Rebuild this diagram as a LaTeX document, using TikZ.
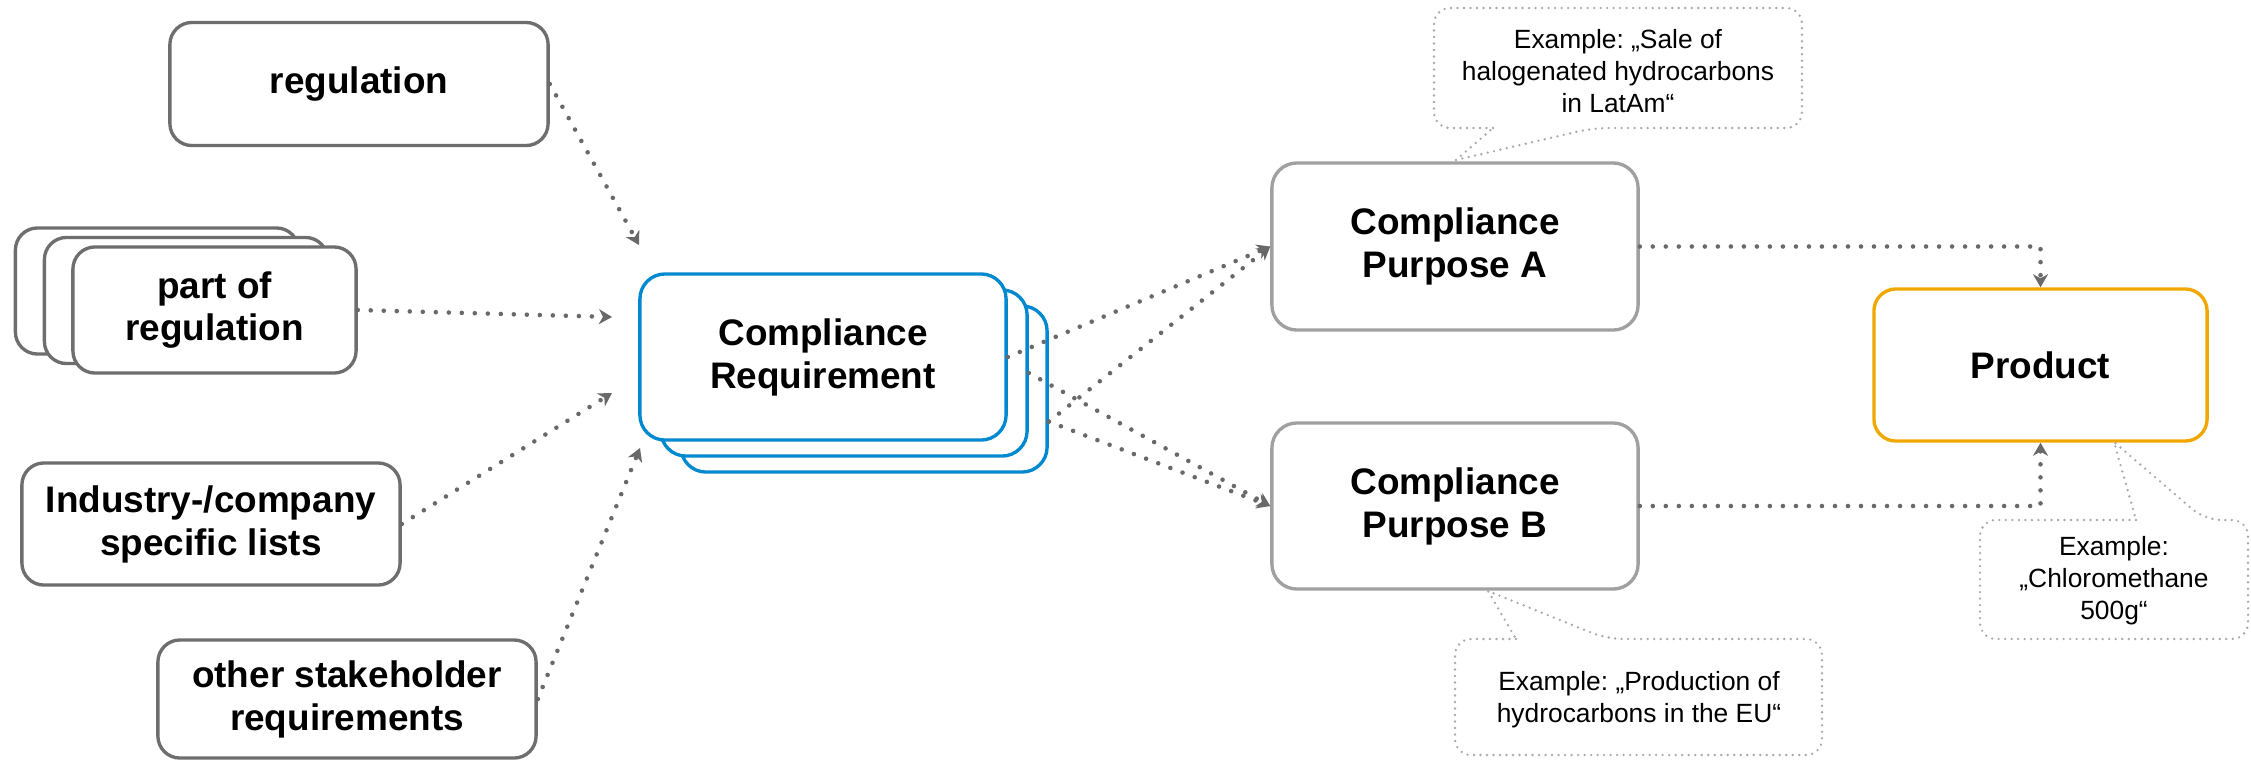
\documentclass[tikz,border=0pt]{standalone}
\usepackage{fontspec}
\setmainfont{Liberation Sans}
\usepackage{tikz}
\usetikzlibrary{arrows.meta,positioning}
\usepackage{xcolor}
\definecolor{srcgray}{RGB}{110,110,110}
\definecolor{purpgray}{RGB}{160,160,160}
\definecolor{reqblue}{RGB}{0,137,207}
\definecolor{prodorange}{RGB}{240,168,0}
\definecolor{linkgray}{RGB}{105,105,105}
\definecolor{notegray}{RGB}{170,170,170}

\begin{document}
\begin{tikzpicture}[x=0.01cm, y=-0.01cm,
  box/.style={rectangle, rounded corners=0.22cm, line width=0.95pt, fill=white, align=center,
    inner sep=0pt, font=\fontsize{10.5}{12.2}\selectfont\bfseries},
  srcbox/.style={box, draw=srcgray, minimum width=3.78cm},
  partbox/.style={box, draw=srcgray, minimum width=2.83cm, minimum height=1.26cm},
  reqbox/.style={box, draw=reqblue, rounded corners=0.25cm, minimum width=3.66cm, minimum height=1.66cm},
  purpbox/.style={box, draw=purpgray, rounded corners=0.25cm, minimum width=3.66cm, minimum height=1.66cm},
  link/.style={draw=linkgray, line width=1.3pt, line cap=round, dash pattern=on 0pt off 3.7pt,
    -{Stealth[length=0.13cm, width=0.15cm, inset=0.04cm]}},
  note/.style={draw=notegray, line width=0.75pt, line cap=round, dash pattern=on 0pt off 1.85pt},
  notetext/.style={align=center, inner sep=0pt, font=\fontsize{7.5}{9.1}\selectfont\frenchspacing}]
\useasboundingbox (0,0) rectangle (2251,760);

% sources
\node[srcbox, minimum height=1.23cm] (reg) at (359,84) {regulation};
\node[partbox] (part3) at (157,291) {};
\node[partbox] (part2) at (186,300.5) {};
\node[partbox] (part) at (214.5,310) {part of\\regulation};
\node[srcbox, minimum height=1.22cm] (ind) at (211,524) {Industry-/company\\specific lists};
\node[srcbox, minimum height=1.18cm] (other) at (347,699) {other stakeholder\\requirements};

% compliance requirement stack
\node[reqbox] (req3) at (864,389) {};
\node[reqbox] (req2) at (844,373) {};
\node[reqbox] (req) at (823,357) {Compliance\\Requirement};

% purposes and product
\node[purpbox, minimum height=1.67cm] (pa) at (1455,246.5) {Compliance\\Purpose A};
\node[purpbox] (pb) at (1455,506) {Compliance\\Purpose B};
\node[box, draw=prodorange, minimum width=3.33cm, minimum height=1.52cm] (prod) at (2040.5,365) {Product};

% arrow ends in front of the requirement
\coordinate (tReg) at (639,245);
\coordinate (tPart) at (612,317);
\coordinate (tInd) at (612,393);
\coordinate (tOther) at (640,448);

\draw[link] (reg.east) -- (tReg);
\draw[link] (part.east) -- (tPart);
\draw[link] (ind.east) -- (tInd);
\draw[link] (other.east) -- (tOther);

\draw[link] (req.east) -- (pa.west);
\draw[link] (req2.east) -- (pb.west);
\draw[link] (req3.-10) -- (pa.west);
\draw[link] (req3.-10) -- (pb.west);

\draw[link] (pa.east) -| (prod.north);
\draw[link] (pb.east) -| (prod.south);

% examples
\node[notetext] (noteA) at (1618,71) {Example: „Sale of\\halogenated hydrocarbons\\in LatAm“};
\draw[note] (1493,128) [rounded corners=0.16cm] -- (1434,128) -- (1434,8) -- (1802,8) -- (1802,128)
  -- (1593,128) [sharp corners] -- (1456,160) -- cycle;

\node[notetext] (noteB) at (1639,700) {Example: „Production of\\hydrocarbons in the EU“};
\draw[note] (1516,639) [rounded corners=0.16cm] -- (1455,639) -- (1455,755) -- (1822,755) -- (1822,639)
  -- (1607,639) [sharp corners] -- (1488,591) -- cycle;

\node[notetext] (noteP) at (2114,581) {Example:\\„Chloromethane\\500g“};
\draw[note] (2136,520) [rounded corners=0.16cm] -- (1980,520) -- (1980,639) -- (2248,639) -- (2248,520)
  -- (2205,520) [sharp corners] -- (2114,442) -- cycle;

\end{tikzpicture}
\end{document}
